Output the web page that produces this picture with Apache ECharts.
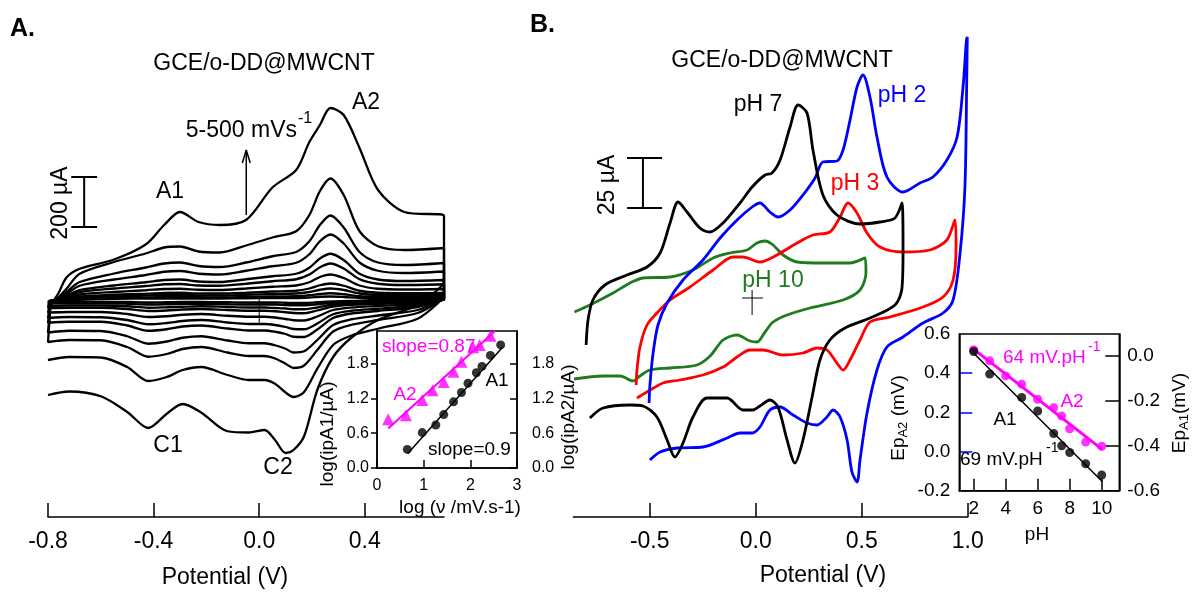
<!DOCTYPE html>
<html>
<head>
<meta charset="utf-8">
<script src="https://cdn.jsdelivr.net/npm/echarts@6/dist/echarts.min.js"></script>
<style>
  html, body { margin: 0; padding: 0; background: #fff; }
  #chart { width: 1193px; height: 595px; }
</style>
</head>
<body>
<div id="chart"></div>
<script>
// ---- panel A: CVs at scan rates 5..500 mV/s (potential V, current uA)
const aFwdE = [-0.79, -0.76, -0.73, -0.68, -0.55, -0.43, -0.36, -0.30, -0.23, -0.15, -0.05, 0.05, 0.14, 0.19, 0.23, 0.27, 0.32, 0.38, 0.45, 0.55, 0.70]
const aRevE = [0.70, 0.69, 0.60, 0.45, 0.35, 0.28, 0.22, 0.17, 0.13, 0.10, 0.06, 0.02, -0.04, -0.12, -0.22, -0.29, -0.35, -0.42, -0.50, -0.60, -0.72, -0.80]

const fwd500 = [-20, 28, 90, 125, 162, 222, 300, 352, 312, 300, 320, 450, 520, 632, 700, 768, 740, 608, 440, 352, 336]
const rev500 = [80, 55, -20, -80, -150, -228, -360, -545, -600, -612, -560, -520, -530, -525, -450, -416, -455, -512, -448, -385, -366, -380]
const fwd300 = [-15, 10, 45, 105, 152, 186, 210, 214, 194, 190, 218, 250, 275, 340, 436, 486, 420, 275, 215, 200, 208]
const rev300 = [20, 0, -75, -115, -142, -180, -275, -368, -388, -370, -335, -320, -320, -300, -268, -280, -308, -324, -268, -230, -228, -240]
const fwd200 = [-12, 8, 32, 72, 106, 130, 146, 150, 136, 132, 150, 175, 192, 235, 300, 338, 290, 192, 150, 140, 148]
const rev200 = [14, 0, -52, -80, -99, -126, -200, -262, -272, -255, -234, -224, -224, -210, -188, -196, -216, -227, -188, -161, -160, -168]
const fwd150 = [-10, 6, 25, 57, 82, 100, 113, 116, 105, 102, 117, 135, 149, 183, 235, 262, 226, 150, 117, 108, 114]
const rev150 = [11, 0, -40, -62, -77, -100, -160, -205, -210, -195, -181, -173, -173, -162, -145, -151, -166, -175, -145, -124, -123, -130]
const fwd100 = [-8, 4, 17, 40, 58, 71, 80, 82, 74, 72, 83, 95, 105, 129, 166, 185, 160, 105, 82, 76, 80]
const rev100 = [8, 0, -28, -44, -54, -72, -118, -148, -147, -136, -127, -122, -122, -114, -102, -106, -117, -123, -102, -87, -87, -91]
const fwd75 = [-6, 3, 14, 32, 46, 56, 63, 64, 58, 57, 65, 75, 83, 102, 131, 146, 126, 83, 65, 60, 63]
const rev75 = [6, 0, -22, -35, -43, -57, -94, -117, -116, -108, -100, -96, -96, -90, -80, -84, -92, -97, -80, -69, -68, -72]
const fwd50 = [-5, 2, 10, 22, 32, 39, 44, 45, 41, 40, 46, 53, 58, 71, 92, 102, 88, 58, 45, 42, 44]
const rev50 = [4, 0, -16, -24, -30, -40, -66, -82, -81, -76, -70, -67, -67, -63, -56, -59, -65, -68, -56, -48, -48, -50]
const fwd30 = [-4, 1, 6, 14, 21, 25, 28, 29, 26, 26, 29, 34, 37, 46, 59, 66, 57, 37, 29, 27, 28]
const rev30 = [3, 0, -10, -16, -19, -26, -42, -53, -52, -49, -45, -43, -43, -40, -36, -38, -42, -44, -36, -31, -31, -32]
const fwd20 = [-3, 1, 4, 10, 14, 18, 20, 20, 18, 18, 21, 24, 26, 32, 41, 46, 40, 26, 20, 19, 20]
const rev20 = [2, 0, -7, -11, -13, -18, -30, -37, -37, -34, -32, -30, -30, -28, -25, -27, -29, -31, -25, -22, -22, -23]
const fwd10 = [-2, 0, 2, 6, 8, 10, 12, 12, 11, 10, 12, 14, 15, 19, 24, 27, 23, 15, 12, 11, 11]
const rev10 = [1, 0, -4, -6, -8, -10, -17, -21, -21, -20, -18, -18, -18, -17, -15, -15, -17, -18, -15, -13, -13, -13]
const fwd5 = [-1, 0, 1, 3, 5, 6, 6, 6, 6, 6, 7, 8, 8, 10, 13, 14, 12, 8, 6, 6, 6]
const rev5 = [1, 0, -2, -3, -4, -6, -9, -12, -12, -11, -10, -10, -10, -9, -8, -8, -9, -10, -8, -7, -7, -7]

// ---- inset A: log ip vs log v
const a1LogV = [0.65, 0.97, 1.26, 1.43, 1.64, 1.81, 1.95, 2.13, 2.25, 2.43, 2.65]
const a1LogI = [0.32, 0.61, 0.74, 0.92, 1.14, 1.30, 1.46, 1.64, 1.75, 1.94, 2.12]
const a2LogV = [0.24, 0.62, 0.97, 1.19, 1.43, 1.64, 1.81, 2.06, 2.20, 2.43]
const a2LogI = [0.84, 0.91, 1.17, 1.34, 1.48, 1.66, 1.83, 2.08, 2.12, 2.28]
const a1Fit = [[0.66, 0.25], [2.69, 2.08]]
const a2Fit = [[0.24, 0.68], [2.53, 2.36]]

// ---- panel B: CVs at different pH (potential V, current uA)
const ph7E = [-0.800,-0.791,-0.768,-0.711,-0.607,-0.513,-0.451,-0.404,-0.366,-0.324,-0.263,-0.215,-0.154,-0.074,-0.017,0.044,0.077,0.115,0.162,0.200,0.242,0.270,0.317,0.383,0.492,0.586,0.657,0.690,0.695,0.690,0.657,0.539,0.421,0.350,0.303,0.266,0.223,0.185,0.148,0.105,0.067,0.020,-0.013,-0.060,-0.135,-0.230,-0.296,-0.343,-0.381,-0.418,-0.466,-0.532,-0.593,-0.720,-0.782]
const ph7I = [-22.5,-10,0,7.5,12.5,16.5,23.5,38.5,49,44,36,34,38.5,48.5,56.5,62.5,63.5,70,86.5,97.5,93.5,75,52.5,42.5,38,39,41,48.5,25,6,-2.5,-9,-14,-20,-30,-48.5,-70,-81.5,-70,-53.5,-50,-53,-55,-55,-49,-49,-58.5,-71.5,-78.5,-70,-58.5,-53,-52.5,-54,-59]
const ph2E = [-0.503,-0.499,-0.484,-0.461,-0.418,-0.343,-0.249,-0.168,-0.088,-0.017,0.020,0.067,0.105,0.162,0.223,0.280,0.317,0.383,0.412,0.445,0.478,0.506,0.539,0.572,0.619,0.695,0.775,0.836,0.902,0.950,0.978,0.994,0.998,0.995,0.987,0.964,0.931,0.884,0.789,0.695,0.619,0.572,0.525,0.492,0.478,0.454,0.431,0.398,0.365,0.336,0.289,0.242,0.176,0.115,0.067,0.020,-0.017,-0.074,-0.135,-0.249,-0.371,-0.451,-0.499]
const ph2I = [-51.5,-42.5,-26.5,-12.5,-1.5,10,20,31,40,46.5,48.5,44,41.5,45,52.5,61,69,69.5,75,90,106.5,112.5,101.5,81.5,61.5,54,58.5,61.5,70,81.5,106.5,130,131.5,106.5,56.5,23.5,0,-6.5,-11.5,-18.5,-23.5,-35,-56.5,-80,-91,-86,-70,-58.5,-55,-58.5,-62.5,-61.5,-57.5,-53.5,-55,-63.5,-66.5,-66.5,-69,-73.5,-74,-76,-80]
const ph3E = [-0.564,-0.560,-0.546,-0.513,-0.466,-0.404,-0.310,-0.201,-0.107,-0.060,0.020,0.100,0.195,0.270,0.350,0.398,0.435,0.478,0.525,0.586,0.695,0.822,0.902,0.940,0.945,0.931,0.884,0.789,0.634,0.539,0.492,0.445,0.412,0.383,0.336,0.289,0.223,0.129,0.034,-0.027,-0.088,-0.154,-0.249,-0.357,-0.437,-0.513,-0.560]
const ph3I = [-42.5,-35,-23.5,-12.5,-6.5,0,6.5,15,21.5,21.5,19,22.5,28.5,32.5,34,41.5,48.5,43.5,33.5,26.5,24,25,30,40,26.5,10,1.5,-3.5,-8.5,-11,-20,-30,-35,-31.5,-25,-24,-26.5,-27.5,-25,-25,-28.5,-33.5,-37.5,-40,-41.5,-46,-49]
const ph10E = [-0.855,-0.782,-0.673,-0.593,-0.532,-0.404,-0.296,-0.201,-0.121,-0.041,0.006,0.044,0.082,0.129,0.195,0.317,0.445,0.516,0.520,0.492,0.412,0.256,0.148,0.082,0.044,0.006,-0.027,-0.088,-0.154,-0.215,-0.277,-0.404,-0.499,-0.546,-0.579,-0.640,-0.720,-0.857]
const ph10I = [-6,-2.5,3.5,8.5,11,11.5,15,21,23.5,25,28.5,29.5,27.5,22.5,19,18.5,18.5,21,13.5,5,0,-4,-7.5,-11,-16,-21,-20.5,-17.5,-20,-28,-32.5,-34,-35,-38,-40.5,-38,-38,-39.5]

// ---- inset B: peak potential vs pH
const a1pH = [2, 3, 5, 6, 7, 7.5, 8, 9, 10]
const a1Ep = [0.02, -0.08, -0.185, -0.245, -0.345, -0.40, -0.43, -0.48, -0.53]
const a2pH = [2, 3, 4, 5, 6, 7, 7.5, 8, 9, 10]
const a2Ep = [0.52, 0.463, 0.386, 0.344, 0.267, 0.224, 0.181, 0.116, 0.048, 0.027]
const a1EpFit = [[2, 0.012], [10.05, -0.56]]
const a2EpFit = [[2, 0.523], [10.05, 0.01]]

const FONT = '"Liberation Sans", Arial, sans-serif'
const zip = (xs, ys) => xs.map((x, i) => [x, ys[i]])

function seg (xi, yi, pts, color, width, z) {
  return {
    type: 'line', xAxisIndex: xi, yAxisIndex: yi, data: pts,
    showSymbol: false, symbol: 'none', silent: true, z: z || 3,
    lineStyle: { color: color, width: width }
  }
}

const series = []

// panel A loops, small to large
const aLoops = [[fwd5, rev5], [fwd10, rev10], [fwd20, rev20], [fwd30, rev30], [fwd50, rev50],
  [fwd75, rev75], [fwd100, rev100], [fwd150, rev150], [fwd200, rev200], [fwd300, rev300], [fwd500, rev500]]
aLoops.forEach(([f, r], i) => {
  const pts = zip(aFwdE, f).concat(zip(aRevE, r))
  if (i < 9) pts.push(pts[0])
  const s = seg(0, 0, pts, '#000', 2.3)
  s.smooth = 0.3
  series.push(s)
})
// scale bar, arrow, origin mark
series.push(seg(0, 0, [[-0.663, 492], [-0.663, 292]], '#000', 2))
series.push(seg(0, 0, [[-0.712, 492], [-0.614, 492]], '#000', 2))
series.push(seg(0, 0, [[-0.712, 292], [-0.614, 292]], '#000', 2))
series.push(seg(0, 0, [[-0.049, 340], [-0.049, 600]], '#000', 1.5))
series.push(seg(0, 0, [[-0.064, 548], [-0.049, 600], [-0.034, 548]], '#000', 1.5))
series.push(seg(0, 0, [[0, 12], [0, -92]], '#000', 1))

// inset A
series.push(seg(1, 1, a2Fit, '#ff00ff', 2, 6))
series.push(seg(1, 1, a1Fit, '#000', 1.5, 6))
series.push({ type: 'scatter', xAxisIndex: 1, yAxisIndex: 1, data: zip(a2LogV, a2LogI), symbol: 'triangle', symbolSize: 12, itemStyle: { color: '#ff00ff' }, z: 7 })
series.push({ type: 'scatter', xAxisIndex: 1, yAxisIndex: 1, data: zip(a1LogV, a1LogI), symbol: 'circle', symbolSize: 9, itemStyle: { color: '#000' }, z: 7 })

// panel B
const bCurves = [[ph10E, ph10I, '#1e7b1e'], [ph3E, ph3I, '#ff0000'], [ph2E, ph2I, '#0000ff'], [ph7E, ph7I, '#000']]
bCurves.forEach(([e, c, col]) => {
  const s = seg(2, 3, zip(e, c), col, 2.8)
  s.smooth = 0.3
  series.push(s)
})
series.push(seg(2, 3, [[-0.532, 71], [-0.532, 46]], '#000', 2))
series.push(seg(2, 3, [[-0.607, 71], [-0.442, 71]], '#000', 2))
series.push(seg(2, 3, [[-0.607, 46], [-0.442, 46]], '#000', 2))
series.push(seg(2, 3, [[-0.064, 1], [0.034, 1]], '#000', 1))
series.push(seg(2, 3, [[-0.017, 5], [-0.017, -7.5]], '#000', 1))

// inset B
series.push(seg(3, 4, a2EpFit, '#ff00ff', 3, 6))
series.push(seg(3, 5, a1EpFit, '#000', 1.5, 6))
series.push({ type: 'scatter', xAxisIndex: 3, yAxisIndex: 4, data: zip(a2pH, a2Ep), symbolSize: 9, itemStyle: { color: '#ff00ff' }, z: 7 })
series.push({ type: 'scatter', xAxisIndex: 3, yAxisIndex: 5, data: zip(a1pH, a1Ep), symbolSize: 9, itemStyle: { color: '#000' }, z: 7 })

const fmt1 = v => v.toFixed(1)
const line = (w) => ({ show: true, onZero: false, lineStyle: { color: '#000', width: w } })

function xAx (grid, min, max, vals, o) {
  return {
    type: 'value', gridIndex: grid, min: min, max: max, splitLine: { show: false },
    axisLine: line(1.5),
    axisTick: { inside: true, length: o.tick, customValues: vals, lineStyle: { color: '#000', width: 1.5 } },
    axisLabel: { customValues: vals, fontSize: o.size, fontFamily: FONT, color: '#000', margin: o.margin, formatter: o.fmt || fmt1 }
  }
}
function yAx (grid, min, max, vals, o) {
  return {
    type: 'value', gridIndex: grid, min: min, max: max, position: o.pos || 'left', splitLine: { show: false },
    axisLine: line(1.5),
    axisTick: { inside: o.inside, length: o.tick, customValues: o.ticks || vals, lineStyle: { color: o.tickColor || '#000', width: 1.5 } },
    axisLabel: { customValues: vals, fontSize: o.size, fontFamily: FONT, color: '#000', margin: o.margin, formatter: fmt1 }
  }
}

function T (text, x, y, size, color, align, extra) {
  extra = extra || {}
  return {
    type: 'text', x: x, y: y, rotation: extra.rot || 0, z: 100,
    style: {
      text: text, fontSize: size, fontFamily: FONT, fontWeight: extra.bold ? 'bold' : 'normal',
      fill: color, align: align, textAlign: align, verticalAlign: 'middle', textVerticalAlign: 'middle',
      rich: extra.rich
    }
  }
}
const R = Math.PI / 2
const subRich = {
  a: { fontSize: 19, fontFamily: FONT, fill: '#000', color: '#000' },
  b: { fontSize: 13, fontFamily: FONT, fill: '#000', color: '#000', padding: [9, 0, 0, 0] }
}

const option = {
  animation: false,
  backgroundColor: '#fff',
  grid: [
    { left: 48, top: 30, width: 396, height: 487 },
    { left: 377, top: 331, width: 140, height: 137, show: true, borderColor: '#000', borderWidth: 1.5 },
    { left: 573.4, top: 30, width: 394.3, height: 487 },
    { left: 959.3, top: 334, width: 160, height: 156.7, show: true, borderColor: '#000', borderWidth: 1.5 }
  ],
  xAxis: [
    xAx(0, -0.8, 0.7, [-0.8, -0.4, 0, 0.4], { tick: 14, size: 23, margin: 13 }),
    xAx(1, 0, 3, [0, 1, 2, 3], { tick: 8, size: 16, margin: 10, fmt: v => String(v) }),
    xAx(2, -0.86, 1.0, [-0.5, 0, 0.5, 1.0], { tick: 14, size: 23, margin: 13 }),
    xAx(3, 1.1, 11.1, [2, 4, 6, 8, 10], { tick: 12, size: 19, margin: 9, fmt: v => String(v) })
  ],
  yAxis: [
    { type: 'value', gridIndex: 0, min: -868, max: 1080, show: false },
    yAx(1, 0, 2.36, [0, 0.6, 1.2, 1.8], { inside: false, tick: 6, size: 16, margin: 8 }),
    yAx(1, 0, 2.36, [0, 0.6, 1.2, 1.8], { pos: 'right', inside: true, tick: 7, size: 16, margin: 15 }),
    { type: 'value', gridIndex: 2, min: -108.5, max: 135, show: false },
    yAx(3, -0.2, 0.6, [-0.2, 0, 0.2, 0.4, 0.6], { inside: true, tick: 13, size: 19, margin: 9, ticks: [0, 0.2, 0.4], tickColor: '#0000ff' }),
    yAx(3, -0.6, 0.098, [-0.6, -0.4, -0.2, 0], { pos: 'right', inside: true, tick: 14, size: 19, margin: 8, ticks: [-0.4, -0.2, 0] })
  ],
  series: series,
  graphic: [
    // panel A
    T('A.', 10, 29, 25, '#000', 'left', { bold: true }),
    T('GCE/o-DD@MWCNT', 264, 64, 23, '#000', 'center'),
    T('A2', 366, 103, 23, '#000', 'center'),
    T('5-500 mVs', 297, 131, 23, '#000', 'right'),
    T('-1', 298, 119, 16, '#000', 'left'),
    T('A1', 170, 192, 23, '#000', 'center'),
    T('C1', 168, 446, 23, '#000', 'center'),
    T('C2', 278, 468, 23, '#000', 'center'),
    T('200 µA', 61, 203, 23, '#000', 'center', { rot: R }),
    T('Potential (V)', 225, 578, 23, '#000', 'center'),
    // inset A
    T('slope=0.87', 382, 347, 19, '#ff00ff', 'left'),
    T('A2', 405, 395, 19, '#ff00ff', 'center'),
    T('A1', 497, 381, 19, '#000', 'center'),
    T('slope=0.9', 428, 450, 19, '#000', 'left'),
    T('log(ipA1/µA)', 328, 434, 19, '#000', 'center', { rot: R }),
    T('log(ipA2/µA)', 569, 417, 19, '#000', 'center', { rot: R }),
    T('log (ν /mV.s-1)', 460, 508, 19, '#000', 'center'),
    // panel B
    T('B.', 530, 25, 25, '#000', 'left', { bold: true }),
    T('GCE/o-DD@MWCNT', 782, 61, 23, '#000', 'center'),
    T('pH 7', 758, 105, 23, '#000', 'center'),
    T('pH 2', 902, 96, 23, '#0000ff', 'center'),
    T('pH 3', 855, 184, 23, '#ff0000', 'center'),
    T('pH 10', 773, 281, 23, '#1e7b1e', 'center'),
    T('25 µA', 608, 185, 23, '#000', 'center', { rot: R }),
    T('Potential (V)', 823, 576, 23, '#000', 'center'),
    // inset B
    T('64 mV.pH', 1003, 358, 19, '#ff00ff', 'left'),
    T('-1', 1088, 347, 14, '#ff00ff', 'left'),
    T('A2', 1072, 402, 19, '#ff00ff', 'center'),
    T('A1', 1005, 420, 19, '#000', 'center'),
    T('69 mV.pH', 960, 460, 19, '#000', 'left'),
    T('-1', 1046, 448, 14, '#000', 'left'),
    T('{a|Ep}{b|A2}{a| (mV)}', 899, 418, 19, '#000', 'center', { rot: R, rich: subRich }),
    T('{a|Ep}{b|A1}{a|(mV)}', 1180, 413, 19, '#000', 'center', { rot: R, rich: subRich }),
    T('pH', 1037, 535, 19, '#000', 'center')
  ]
}

const chart = echarts.init(document.getElementById('chart'), null, { renderer: 'canvas' })
chart.setOption(option)
</script>
</body>
</html>
